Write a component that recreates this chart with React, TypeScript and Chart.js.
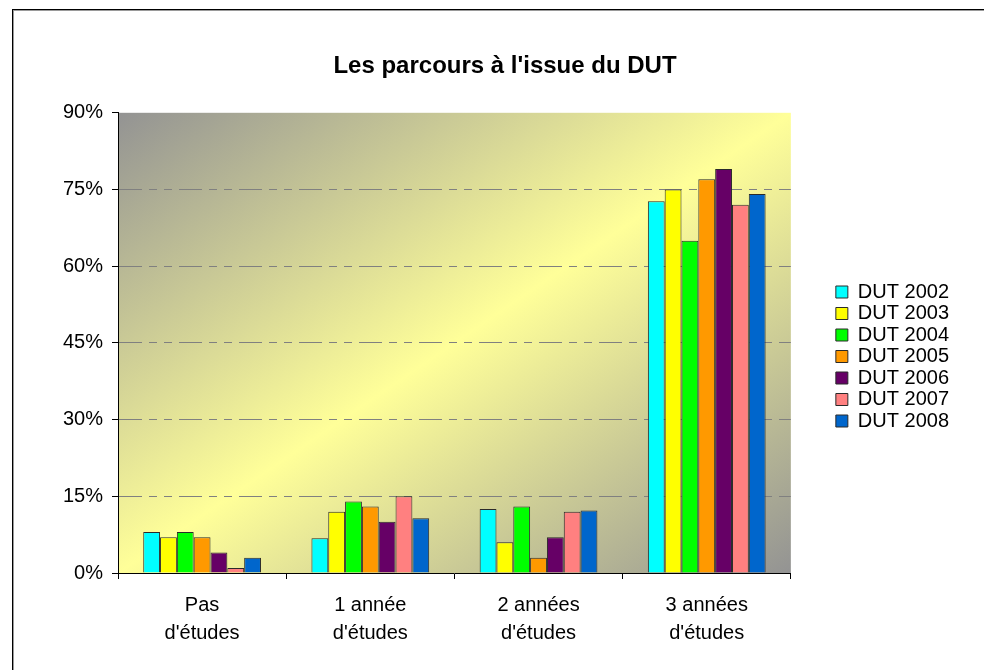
import React, { useEffect, useRef } from "react";
import { Chart, registerables } from "chart.js";

Chart.register(...registerables);

const categories: string[][] = [
  ["Pas", "d'études"],
  ["1 année", "d'études"],
  ["2 années", "d'études"],
  ["3 années", "d'études"],
];

const seriesNames = ["DUT 2002", "DUT 2003", "DUT 2004", "DUT 2005", "DUT 2006", "DUT 2007", "DUT 2008"];
const dut2002 = [8, 6.8, 12.5, 72.7];
const dut2003 = [7, 12, 6, 75];
const dut2004 = [8, 14, 13, 65];
const dut2005 = [7, 13, 3, 77];
const dut2006 = [4, 10, 7, 79];
const dut2007 = [1, 15, 12, 72];
const dut2008 = [3, 10.7, 12.2, 74.1];
const seriesValues = [dut2002, dut2003, dut2004, dut2005, dut2006, dut2007, dut2008];
const seriesColors = ["#00FFFF", "#FFFF00", "#00FF00", "#FF9900", "#660066", "#FF8080", "#0066CC"];

const yTickValues = [0, 15, 30, 45, 60, 75, 90];

const FONT = "'Liberation Sans', Arial, Helvetica, sans-serif";

const decorPlugin = {
  id: "decor",
  afterLayout(chart: any) {
    const t = chart.titleBlock;
    if (t) {
      t.left = 26;
      t.right = 984;
    }
  },
  beforeDraw(chart: any) {
    const ctx = chart.ctx as CanvasRenderingContext2D;
    const a = chart.chartArea;
    ctx.save();
    // frame
    ctx.fillStyle = "#000000";
    ctx.fillRect(12, 9, chart.width - 12, 1);
    ctx.fillRect(12, 9, 1, chart.height - 9);
    ctx.fillStyle = "#9a9a9a";
    ctx.fillRect(13, 10, chart.width - 13, 1);
    ctx.fillRect(13, 10, 1, chart.height - 10);
    // plot area gradient
    ctx.translate(a.left, a.top);
    ctx.scale(a.right - a.left, a.bottom - a.top);
    const g = ctx.createLinearGradient(0, 0, 1, 1);
    g.addColorStop(0, "#939393");
    g.addColorStop(0.5, "#FFFF99");
    g.addColorStop(1, "#939393");
    ctx.fillStyle = g;
    ctx.fillRect(0, 0, 1, 1);
    ctx.restore();
  },
};

export default function App() {
  const ref = useRef<HTMLCanvasElement | null>(null);

  useEffect(() => {
    if (!ref.current) return;
    const chart = new Chart(ref.current, {
      type: "bar",
      data: {
        labels: categories as any,
        datasets: seriesNames.map((name, i) => ({
          label: name,
          data: seriesValues[i],
          backgroundColor: seriesColors[i],
          borderColor: "#2a2a2a",
          borderWidth: 1,
          categoryPercentage: 0.7,
          barPercentage: 1,
        })),
      },
      options: {
        responsive: false,
        animation: false,
        layout: { padding: { top: 43, left: 0, right: 25, bottom: 0 } },
        scales: {
          x: {
            offset: true,
            grid: {
              display: true,
              offset: true,
              drawOnChartArea: false,
              drawTicks: true,
              tickColor: "#000000",
              tickLength: 6,
              tickWidth: 1,
            },
            border: { display: true, color: "#000000", width: 1 },
            ticks: {
              color: "#000000",
              padding: 12,
              maxRotation: 0,
              autoSkip: false,
              font: { family: FONT, size: 20, lineHeight: 1.4 },
            },
            afterFit: (s: any) => {
              s.height = 97;
            },
          },
          y: {
            min: 0,
            max: 90,
            afterBuildTicks: (s: any) => {
              s.ticks = yTickValues.map((v) => ({ value: v }));
            },
            grid: {
              color: (c: any) =>
                c.tick && (c.tick.value === 0 || c.tick.value === 90) ? "rgba(0,0,0,0)" : "#808080",
              lineWidth: 1,
              drawTicks: true,
              tickColor: "#000000",
              tickLength: 6,
              tickWidth: 1,
              tickBorderDash: [],
            },
            border: { display: true, color: "#000000", width: 1, dash: [23, 7, 8, 7, 8, 7] },
            ticks: {
              color: "#000000",
              padding: 9,
              font: { family: FONT, size: 20 },
              callback: (v: any) => v + "%",
            },
            afterFit: (s: any) => {
              s.width = 118;
            },
          },
          yR: {
            type: "linear",
            position: "right",
            display: true,
            grid: { display: false, drawOnChartArea: false, drawTicks: false },
            border: { display: false },
            ticks: { display: false },
            afterFit: (s: any) => {
              s.width = 43.5;
            },
          },
        } as any,
        plugins: {
          title: {
            display: true,
            text: "Les parcours à l'issue du DUT",
            color: "#000000",
            font: { family: FONT, size: 24, weight: "bold" },
            padding: { top: 9, bottom: 32 },
          },
          legend: {
            display: true,
            position: "right",
            labels: {
              boxWidth: 12,
              boxHeight: 12,
              padding: 1.5,
              color: "#000000",
              font: { family: FONT, size: 20 },
            },
          },
          tooltip: { enabled: false },
        },
      },
      plugins: [decorPlugin],
    });
    return () => chart.destroy();
  }, []);

  return (
    <div style={{ position: "fixed", left: 0, top: 0, width: 984, height: 670, background: "#ffffff" }}>
      <canvas ref={ref} width={984} height={670} style={{ display: "block" }} />
    </div>
  );
}
